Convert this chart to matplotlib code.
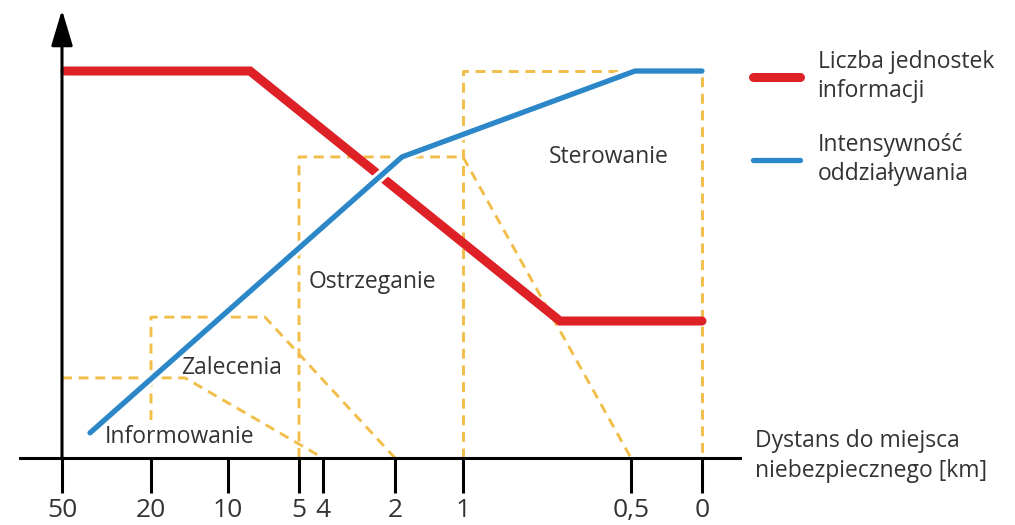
import matplotlib.pyplot as plt
import matplotlib.patheffects as pe

plt.rcParams['font.family'] = ['Open Sans', 'DejaVu Sans']

# ---- dane (os X w jednostkach pozycji, os Y w jednostkach umownych) ----
tick_pos = [0, 89, 166, 237, 261, 333, 401, 569, 640]
tick_labels = ['50', '20', '10', '5', '4', '2', '1', '0,5', '0']

red_x = [3, 188, 498, 640]
red_y = [10, 10, 3.54, 3.54]

blue_x = [28, 340, 573, 640]
blue_y = [0.65, 7.78, 10, 10]

info_x = [0, 123, 261]
info_y = [2.07, 2.07, 0]
zal_x = [89, 89, 203, 333]
zal_y = [0.98, 3.64, 3.64, 0]
ost_x = [237, 237, 401, 569]
ost_y = [0, 7.78, 7.78, 0]
ster_x = [401, 401, 640, 640]
ster_y = [0, 10, 10, 0]

RED = '#DD2127'
BLUE = '#2B87C8'
DASH = '#F2BE4A'
TXT = '#333333'

fig = plt.figure(figsize=(10.15, 5.25), dpi=100)
ax = fig.add_axes([0, 0, 1, 1])
ax.set_xlim(-62, 953)
ax.set_ylim(-1.731, 11.835)

# obszary (przerywane)
for xs, ys in [(info_x, info_y), (zal_x, zal_y), (ost_x, ost_y), (ster_x, ster_y)]:
    ax.plot(xs, ys, color=DASH, lw=2.1, linestyle=(0, (3.4, 2.3)), zorder=1)

ax.plot(red_x, red_y, color=RED, lw=6.5, solid_capstyle='round',
        solid_joinstyle='miter', zorder=3, label='Liczba jednostek\ninformacji')
ax.plot(blue_x, blue_y, color=BLUE, lw=3.8, solid_capstyle='round', zorder=4,
        path_effects=[pe.Stroke(linewidth=8, foreground='white'), pe.Normal()],
        label='Intensywność\noddziaływania')

# osie
ax.spines[['top', 'right', 'left']].set_visible(False)
ax.spines['bottom'].set_position(('data', 0))
ax.spines['bottom'].set_bounds(-42, 678)
ax.spines['bottom'].set_linewidth(2.2)
ax.spines['bottom'].set_zorder(5)
ax.set_xticks(tick_pos)
ax.set_xticklabels(tick_labels)
ax.tick_params(axis='x', direction='out', length=25, width=2.2, pad=4,
               labelsize=19, labelcolor=TXT)
ax.set_yticks([])
ax.annotate('', xy=(0, 11.58), xytext=(0, 0),
            arrowprops=dict(arrowstyle='-|>,head_length=1.1,head_width=0.33',
                            lw=2.2, color='black', mutation_scale=20,
                            shrinkA=0, shrinkB=0), zorder=5)

# etykiety obszarow
fs = 16.5
ax.text(547, 7.78, 'Sterowanie', fontsize=fs, color=TXT, ha='center', va='center')
ax.text(310, 4.55, 'Ostrzeganie', fontsize=fs, color=TXT, ha='center', va='center')
ax.text(170, 2.33, 'Zalecenia', fontsize=fs, color=TXT, ha='center', va='center')
ax.text(118, 0.54, 'Informowanie', fontsize=fs, color=TXT, ha='center', va='center')
ax.text(693, 0.05, 'Dystans do miejsca\nniebezpiecznego [km]', fontsize=fs,
        color=TXT, ha='left', va='center', linespacing=1.3)

leg = ax.legend(loc='upper left', bbox_to_anchor=(0.722, 0.945), frameon=False,
                fontsize=fs, handlelength=2.05, handletextpad=0.75,
                labelspacing=1.3)
for t in leg.get_texts():
    t.set_color(TXT)
    t.set_linespacing(1.3)

fig.savefig('out.png', dpi=100)
